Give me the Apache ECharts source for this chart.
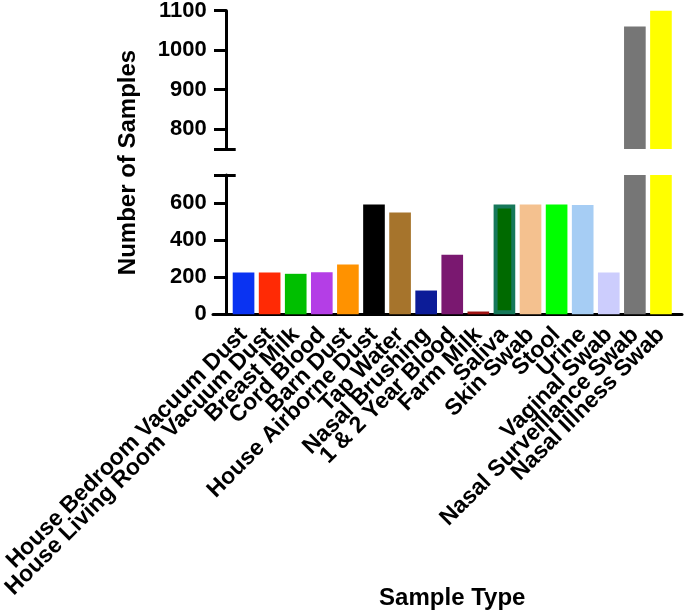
<!DOCTYPE html>
<html>
<head>
<meta charset="utf-8">
<script src="https://cdn.jsdelivr.net/npm/echarts@6/dist/echarts.min.js"></script>
<style>
html,body{margin:0;padding:0;background:#fff;}
#chart{width:685px;height:613px;}
</style>
</head>
<body>
<div id="chart"></div>
<script>
const categories = ["House Bedroom Vacuum Dust","House Living Room Vacuum Dust","Breast Milk","Cord Blood","Barn Dust","House Airborne Dust","Tap Water","Nasal Brushing","1 & 2 Year Blood","Farm Milk","Saliva","Skin Swab","Stool","Urine","Vaginal Swab","Nasal Surveillance Swab","Nasal Illness Swab"];
const sampleCounts = [225, 225, 218, 227, 268, 591, 548, 128, 321, 15, 591, 591, 591, 589, 225, 1060, 1100];
const barColors = ["#0a33f2","#ff2a05","#00bf00","#b43ee6","#ff9200","#000000","#a6742c","#0c1c98","#7a1870","#a01414","#006a00","#f4c18f","#00ff00","#a6cdf4","#cccdfd","#767676","#ffff00"];
const barBorders = [null,null,null,null,null,null,null,null,null,null,"#16785a",null,null,null,null,null,null];
const lowerTicks = [0, 200, 400, 600];
const upperTicks = [800, 900, 1000, 1100];
const breakValue = 750;
const upperMax = 1100;

const FONT = "'Liberation Sans', Arial, Helvetica, sans-serif";

function mkData(vals) {
  return vals.map((v, i) => ({
    value: v,
    itemStyle: barBorders[i]
      ? { color: barColors[i], borderColor: barBorders[i], borderWidth: 4 }
      : { color: barColors[i] }
  }));
}

const upperVals = sampleCounts.map(v => v > breakValue ? v : '-');

const chart = echarts.init(document.getElementById('chart'), null, {renderer: 'canvas'});
const axisCol = '#000';
const yOff = 3.8;
const plainNum = v => String(v);

const option = {
  animation: false,
  backgroundColor: '#fff',
  textStyle: {fontFamily: FONT},
  grid: [
    {left: 230.5, right: 11, top: 175, bottom: 298.7, containLabel: false, outerBoundsMode: 'none'},
    {left: 230.5, right: 11, top: 10.7, bottom: 464, containLabel: false, outerBoundsMode: 'none'},
    {left: 213, right: 3, top: 10.7, bottom: 298.7, containLabel: false, outerBoundsMode: 'none'}
  ],
  xAxis: [
    {
      type: 'category', gridIndex: 0, data: categories,
      axisLine: {show: false}, axisTick: {show: false},
      axisLabel: {rotate: 45, margin: 17, interval: 0, color: '#000', fontWeight: 'bold', fontSize: 23, fontFamily: FONT},
      name: 'Sample Type', nameLocation: 'middle', nameGap: 272, nameMoveOverlap: false,
      nameTextStyle: {color: '#000', fontWeight: 'bold', fontSize: 24, fontFamily: FONT}
    },
    {type: 'category', gridIndex: 1, data: categories, show: false},
    {
      type: 'value', gridIndex: 2, min: 0, max: 1,
      axisLine: {show: true, lineStyle: {color: axisCol, width: 3}},
      axisTick: {show: false}, axisLabel: {show: false}, splitLine: {show: false}
    }
  ],
  yAxis: [
    {
      type: 'value', gridIndex: 0, position: 'left', min: 0, max: breakValue, offset: yOff,
      axisLine: {show: true, lineStyle: {color: axisCol, width: 3}},
      axisTick: {show: true, length: 12.7, customValues: lowerTicks.concat([breakValue]), lineStyle: {color: axisCol, width: 3}},
      axisLabel: {customValues: lowerTicks, formatter: plainNum, margin: 20, color: '#000', fontWeight: 'bold', fontSize: 22, fontFamily: FONT},
      splitLine: {show: false}
    },
    {
      type: 'value', gridIndex: 0, position: 'left', min: 0, max: breakValue, offset: yOff,
      axisLine: {show: false},
      axisTick: {show: true, inside: true, length: 9, customValues: [breakValue], lineStyle: {color: axisCol, width: 3}},
      axisLabel: {show: false}, splitLine: {show: false}
    },
    {
      type: 'value', gridIndex: 1, position: 'left', min: breakValue, max: upperMax, offset: yOff,
      axisLine: {show: true, lineStyle: {color: axisCol, width: 3}},
      axisTick: {show: true, length: 12.7, customValues: [breakValue].concat(upperTicks), lineStyle: {color: axisCol, width: 3}},
      axisLabel: {customValues: upperTicks, formatter: plainNum, margin: 20, color: '#000', fontWeight: 'bold', fontSize: 22, fontFamily: FONT},
      splitLine: {show: false}
    },
    {
      type: 'value', gridIndex: 1, position: 'left', min: breakValue, max: upperMax, offset: yOff,
      axisLine: {show: false},
      axisTick: {show: true, inside: true, length: 9, customValues: [breakValue], lineStyle: {color: axisCol, width: 3}},
      axisLabel: {show: false}, splitLine: {show: false}
    },
    {
      type: 'value', gridIndex: 2, position: 'left', min: 0, max: 1,
      axisLine: {show: false}, axisTick: {show: false}, axisLabel: {show: false}, splitLine: {show: false},
      name: 'Number of Samples', nameLocation: 'middle', nameGap: 73, nameMoveOverlap: false,
      nameTextStyle: {color: '#000', fontWeight: 'bold', fontSize: 24, fontFamily: FONT}
    }
  ],
  series: [
    {
      type: 'bar', xAxisIndex: 0, yAxisIndex: 0, barWidth: '83%',
      data: mkData(sampleCounts), clip: true
    },
    {
      type: 'bar', xAxisIndex: 1, yAxisIndex: 2, barWidth: '83%',
      data: mkData(upperVals), clip: true
    }
  ]
};
chart.setOption(option);
</script>
</body>
</html>
